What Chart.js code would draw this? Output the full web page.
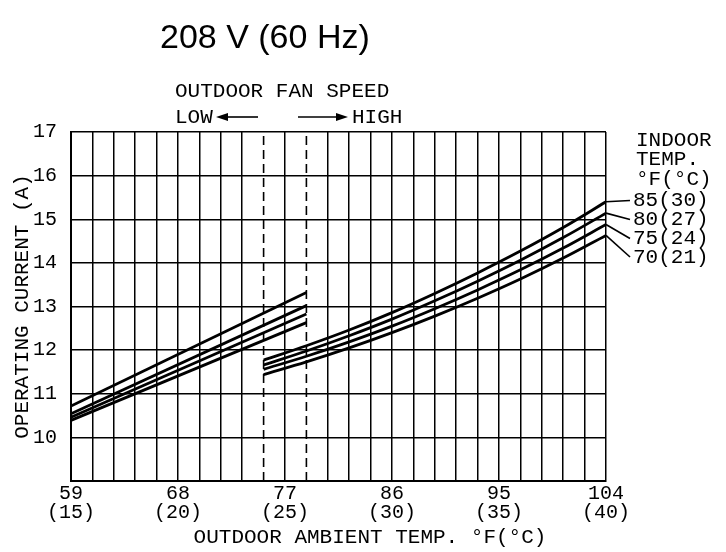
<!DOCTYPE html>
<html><head><meta charset="utf-8">
<script src="https://cdn.jsdelivr.net/npm/chart.js@4.4.0/dist/chart.umd.min.js"></script>
<style>html,body{margin:0;padding:0;background:#fff;}</style>
</head><body>
<canvas id="c" width="726" height="552" style="width:726px;height:552px;display:block"></canvas>
<script>
// ---- data (outdoor temp in °C, current in A) ----
const lowX = [15, 26];
const low85 = [10.72, 13.32];
const low80 = [10.54, 13.02];
const low75 = [10.46, 12.83];
const low70 = [10.39, 12.63];

const highX  = [24, 26, 28, 30, 32, 34, 36, 38, 40];
const high85 = [11.77, 12.10, 12.46, 12.86, 13.30, 13.77, 14.27, 14.81, 15.40];
const high80 = [11.66, 11.98, 12.33, 12.71, 13.13, 13.58, 14.06, 14.58, 15.14];
const high75 = [11.56, 11.86, 12.19, 12.55, 12.95, 13.38, 13.84, 14.34, 14.88];
const high70 = [11.44, 11.73, 12.05, 12.40, 12.78, 13.19, 13.63, 14.11, 14.63];

const indoorLabels = ['85(30)', '80(27)', '75(24)', '70(21)'];
const xTickC = [15, 20, 25, 30, 35, 40];
const xTickF = ['59', '68', '77', '86', '95', '104'];
const yTicks = [10, 11, 12, 13, 14, 15, 16, 17];
const fanBreaks = [24, 26];

const MONO = '"Liberation Mono", "DejaVu Sans Mono", monospace';
const pts = (xs, ys) => xs.map((x, i) => ({x: x, y: ys[i]}));

const seriesLine = (xs, ys, smooth) => ({
  data: pts(xs, ys), borderColor: '#000', borderWidth: 2.8, pointRadius: 0,
  fill: false, cubicInterpolationMode: smooth ? 'monotone' : 'default', tension: smooth ? 0.4 : 0
});

const highSeries = [high85, high80, high75, high70];
const datasets = [
  seriesLine(lowX, low85, false), seriesLine(lowX, low80, false),
  seriesLine(lowX, low75, false), seriesLine(lowX, low70, false),
  seriesLine(highX, high85, true), seriesLine(highX, high80, true),
  seriesLine(highX, high75, true), seriesLine(highX, high70, true)
];
fanBreaks.forEach(b => datasets.push({
  data: [{x: b, y: 9}, {x: b, y: 17}], borderColor: '#000', borderWidth: 1.6,
  borderDash: [9, 5], pointRadius: 0, fill: false
}));

const annot = {
  id: 'annot',
  afterDraw(chart) {
    const {ctx, scales: {x, y}} = chart;
    ctx.save();
    ctx.fillStyle = '#000';
    ctx.strokeStyle = '#000';
    ctx.font = '34px "Liberation Sans", Arial, sans-serif';
    ctx.textAlign = 'left';
    ctx.textBaseline = 'alphabetic';
    ctx.fillText('208 V (60 Hz)', 160, 48);

    ctx.font = '21px ' + MONO;
    ctx.textBaseline = 'middle';
    ctx.fillText('OUTDOOR FAN SPEED', 175, 91);
    ctx.fillText('LOW', 175, 117);
    ctx.fillText('HIGH', 352, 117);
    // arrows
    ctx.lineWidth = 1.6;
    ctx.beginPath(); ctx.moveTo(258, 117); ctx.lineTo(226, 117); ctx.stroke();
    ctx.beginPath(); ctx.moveTo(216, 117); ctx.lineTo(228, 113); ctx.lineTo(228, 121); ctx.closePath(); ctx.fill();
    ctx.beginPath(); ctx.moveTo(298, 117); ctx.lineTo(338, 117); ctx.stroke();
    ctx.beginPath(); ctx.moveTo(348, 117); ctx.lineTo(336, 113); ctx.lineTo(336, 121); ctx.closePath(); ctx.fill();

    ctx.textAlign = 'center';
    ctx.fillText('OUTDOOR AMBIENT TEMP. \u00B0F(\u00B0C)', 370, 537);

    // legend
    ctx.textAlign = 'left';
    ctx.fillText('INDOOR', 636, 140);
    ctx.fillText('TEMP.', 636, 159.5);
    ctx.fillText('\u00B0F(\u00B0C)', 636, 179);
    const labY = [200.5, 219.5, 238.5, 257];
    const xr = x.getPixelForValue(highX[highX.length - 1]);
    ctx.lineWidth = 1.6;
    indoorLabels.forEach((t, i) => {
      ctx.fillText(t, 633, labY[i]);
      const ys = highSeries[i];
      ctx.beginPath();
      ctx.moveTo(xr, y.getPixelForValue(ys[ys.length - 1]));
      ctx.lineTo(630, labY[i]);
      ctx.stroke();
    });
    ctx.restore();
  }
};

new Chart(document.getElementById('c'), {
  type: 'line',
  data: {datasets: datasets},
  plugins: [annot],
  options: {
    responsive: false,
    animation: false,
    events: [],
    layout: {padding: {top: 132, right: 120, bottom: 0, left: 0}},
    plugins: {legend: {display: false}, title: {display: false}, tooltip: {enabled: false}},
    scales: {
      x: {
        type: 'linear', min: 15, max: 40,
        afterFit: s => { s.height = 71; },
        afterBuildTicks: s => { s.ticks = []; for (let v = 15; v <= 40; v++) s.ticks.push({value: v}); },
        ticks: {
          autoSkip: false, maxRotation: 0, minRotation: 0, padding: 4, color: '#000',
          font: {family: MONO, size: 20, lineHeight: 0.92},
          callback: v => { const i = xTickC.indexOf(v); return i >= 0 ? [xTickF[i], '(' + xTickC[i] + ')'] : ''; }
        },
        grid: {
          drawTicks: false, lineWidth: 1.5,
          color: c => (fanBreaks.includes(c.tick && c.tick.value) ? 'rgba(0,0,0,0)' : '#000')
        },
        border: {display: true, color: '#000', width: 2}
      },
      y: {
        type: 'linear', min: 9, max: 17,
        afterFit: s => { s.width = 71; },
        afterBuildTicks: s => { s.ticks = [{value: 9}].concat(yTicks.map(v => ({value: v}))); },
        ticks: {
          padding: 14, color: '#000',
          font: {family: MONO, size: 20},
          callback: v => (yTicks.includes(v) ? String(v) : '')
        },
        grid: {drawTicks: false, lineWidth: 1.5, color: '#000'},
        border: {display: true, color: '#000', width: 2},
        title: {
          display: true, text: 'OPERATING CURRENT (A)', color: '#000',
          font: {family: MONO, size: 21}, padding: {top: 10, bottom: 0}
        }
      }
    }
  }
});
</script>
</body></html>
